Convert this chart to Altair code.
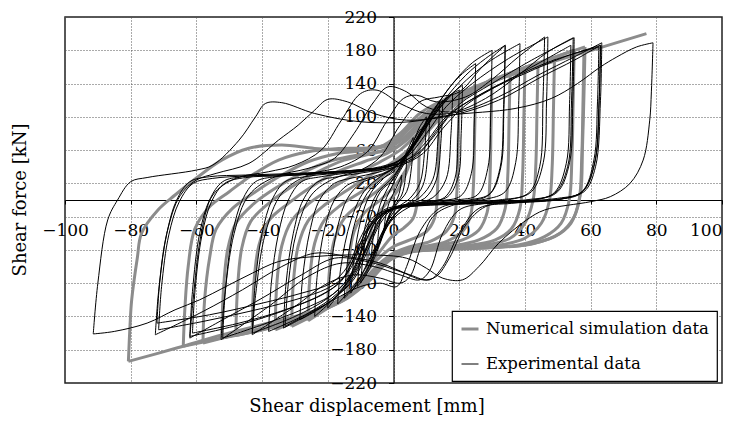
import altair as alt
import pandas as pd

X_TICKS = [-100, -80, -60, -40, -20, 0, 20, 40, 60, 80, 100]
Y_TICKS = [-220, -180, -140, -100, -60, -20, 20, 60, 100, 140, 180, 220]
SERIES = ["Numerical simulation data", "Experimental data"]
X_TITLE = "Shear displacement [mm]"
Y_TITLE = "Shear force [kN]"

# ---------------- Numerical simulation (grey) half-cycles ----------------
num_80_up = [(-80.7, -194), (-80.2, -150), (-79.7, -120), (-78, -70), (-76.7, -40), (-71.7, -12), (-66.5, 6),
             (-59.5, 28), (-52.3, 48), (-44.3, 62), (-34, 66), (-24, 62), (-12, 60), (-4, 64), (2, 80), (8, 104),
             (16, 122), (28, 140), (45, 162), (62, 182), (77, 200)]
num_80_down = [(58, 182), (57.7, 120), (57.3, 50), (56.5, 0), (54, -28), (49, -44), (40, -54), (26, -58), (12, -60),
               (2, -64), (-4, -80), (-10, -104), (-18, -124), (-28, -138), (-40, -150), (-52, -162), (-66, -178),
               (-80.7, -194)]
num_64_up = [(-64, -176), (-63.5, -130), (-62.5, -80), (-60.5, -35), (-56, -8), (-50, 10), (-43, 30), (-35, 48),
             (-26, 58), (-16, 62), (-6, 63), (0, 70), (6, 92), (14, 116), (26, 138), (42, 162), (58.3, 184)]
num_64_down = [(58.3, 184), (58, 130), (57.5, 60), (57, 10), (55, -20), (50.7, -40), (43, -52), (35.5, -56), (20, -58),
               (8, -60), (0, -66), (-6, -86), (-12, -108), (-20, -128), (-32, -146), (-46, -160), (-64, -176)]
num_58_up = [(-58, -172), (-57.5, -120), (-56, -70), (-54, -35), (-49, -10), (-42, 10), (-34, 30), (-26, 46),
             (-17, 56), (-8, 60), (0, 68), (6, 90), (14, 114), (26, 136), (40, 158), (55, 180)]
num_58_down = [(55, 180), (54.7, 120), (54.3, 50), (53.5, 0), (51, -28), (46, -44), (38, -54), (25, -58), (10, -60),
               (0, -68), (-6, -90), (-13, -112), (-22, -132), (-34, -148), (-46, -160), (-58, -172)]
num_52_up = [(-52.3, -166), (-51.8, -110), (-50.5, -60), (-48, -28), (-43, -6), (-36, 14), (-28, 32), (-20, 46),
             (-11, 54), (-3, 60), (3, 74), (9, 98), (18, 122), (30, 144), (44, 165)]
num_52_down = [(44, 165), (43.7, 110), (43.3, 40), (42.5, 0), (40, -28), (35.5, -46), (28, -54), (15, -58), (5, -62),
               (-2, -74), (-8, -98), (-15, -120), (-25, -138), (-38, -154), (-52.3, -166)]
num_48_up = [(-48, -163), (-47.5, -108), (-46.2, -58), (-43.5, -26), (-38, -4), (-31, 16), (-23, 34), (-15, 48),
             (-6, 56), (1, 64), (7, 86), (14, 110), (25, 134), (38, 154), (49, 172)]
num_48_down = [(49, 172), (48.7, 110), (48.3, 40), (47.5, 0), (45, -28), (40, -46), (31, -55), (18, -59), (6, -62),
               (-1, -72), (-7, -96), (-14, -118), (-24, -136), (-36, -152), (-48, -163)]
num_43_up = [(-43, -158), (-42.5, -100), (-41, -55), (-38, -25), (-32, -4), (-25, 16), (-17, 34), (-9, 46), (-2, 56),
             (4, 72), (10, 96), (18, 118), (28, 138), (40, 158)]
num_43_down = [(40, 158), (39.7, 100), (39.3, 30), (38.5, -10), (36, -34), (31, -48), (22, -55), (10, -58), (2, -64),
               (-4, -80), (-10, -102), (-18, -124), (-30, -142), (-43, -158)]
num_36_up = [(-36, -156), (-35.5, -100), (-34, -55), (-31, -25), (-26, -5), (-19, 14), (-11, 32), (-4, 46), (2, 60),
             (8, 82), (15, 106), (24, 130), (35.5, 152)]
num_36_down = [(35.5, 152), (35.2, 100), (34.8, 30), (34, -10), (31.5, -34), (26, -48), (18, -55), (8, -58), (0, -66),
               (-6, -86), (-12, -108), (-21, -130), (-36, -156)]
num_31_up = [(-31, -152), (-30.5, -100), (-29, -55), (-26, -25), (-21, -6), (-14, 12), (-7, 30), (0, 46), (6, 66),
             (12, 92), (20, 118), (30, 146)]
num_31_down = [(30, 146), (29.7, 90), (29.3, 20), (28.5, -15), (26, -36), (21, -48), (13, -55), (4, -60), (-3, -72),
               (-9, -96), (-16, -120), (-31, -152)]
num_26_up = [(-26, -145), (-25.5, -95), (-24, -52), (-21, -24), (-16, -6), (-9, 12), (-3, 30), (3, 50), (9, 76),
             (16, 106), (25, 138)]
num_26_down = [(25, 138), (24.7, 80), (24.3, 15), (23.5, -18), (21, -38), (16, -50), (9, -56), (2, -62), (-4, -80),
               (-10, -102), (-17, -122), (-26, -145)]
num_20_up = [(-20, -130), (-19.5, -85), (-18, -48), (-15, -22), (-10, -4), (-4, 14), (1, 34), (6, 60), (12, 92),
             (20, 126)]
num_20_down = [(20, 126), (19.7, 70), (19.3, 10), (18.5, -20), (16, -38), (11, -50), (5, -56), (-1, -66), (-6, -86),
               (-12, -106), (-20, -130)]
num_14_up = [(-14, -112), (-13.5, -70), (-12, -38), (-9, -16), (-4, 0), (1, 20), (5, 44), (9, 72), (14, 110)]
num_14_down = [(14, 110), (13.7, 60), (13.3, 5), (12.5, -22), (10, -38), (5, -48), (0, -56), (-5, -72), (-9, -90),
               (-14, -112)]
num_8_up = [(-8, -85), (-7.5, -50), (-6, -25), (-3, -8), (1, 10), (4, 34), (6, 58), (8, 85)]
num_8_down = [(8, 85), (7.7, 40), (7.3, 0), (6, -22), (3, -34), (0, -42), (-3, -56), (-6, -72), (-8, -85)]

# ---------------- Experimental (black) half-cycles ----------------
exp_91_up = [(-91.4, -161), (-90, -100), (-87, -24), (-84, 0), (-80, 22), (-75, 27), (-60, 36), (-55, 42), (-47, 72),
             (-42, 100), (-39, 116), (-34, 117), (-24, 104), (-10, 94), (5, 94), (17, 102), (37, 110), (48, 122),
             (56, 140), (63, 160), (68, 172), (74, 184), (79, 189)]
exp_91_down = [(79, 189), (78.5, 130), (78, 96), (76, 48), (72, 20), (66, 4), (60, -2), (46, -12), (40.5, -24),
               (32, -52), (26, -80), (21, -96), (15, -94), (10, -82), (4, -70), (-8, -66), (-24, -68), (-35, -74),
               (-43, -88), (-51, -104), (-59, -120), (-66.5, -132), (-75, -148), (-85, -158), (-91.4, -161)]
exp_72_up = [(-72.5, -162), (-71.5, -110), (-69, -40), (-65, 5), (-60, 24), (-54, 32), (-44, 44), (-35, 72),
             (-29, 90), (-24, 108), (-20, 121), (-14, 118), (-6, 104), (4, 96), (18, 102), (32, 120), (45, 148),
             (55, 168), (63, 186)]
exp_72_down = [(63, 186), (62.6, 120), (61, 40), (57, 8), (48, 0), (36, -4), (26, -10), (20, -40), (15, -80),
               (11, -96), (5, -90), (-4, -76), (-14, -68), (-24, -64), (-34, -80), (-46, -108), (-58, -134),
               (-72.5, -162)]
exp_62_up = [(-62, -166), (-61, -120), (-58.5, -40), (-55, 6), (-48, 26), (-38, 34), (-30, 42), (-22, 60), (-16, 95),
             (-10, 128), (-5, 132), (2, 116), (10, 104), (20, 106), (32, 124), (44, 150), (55, 172), (63.4, 189)]
exp_62_down = [(63.4, 189), (63, 120), (61.5, 40), (58, 10), (50, 2), (38, -2), (28, -8), (22, -30), (17, -70),
               (13, -92), (9, -96), (2, -86), (-8, -74), (-18, -70), (-28, -90), (-40, -118), (-52, -144),
               (-62, -166)]
exp_52_up = [(-52.5, -168), (-51.5, -120), (-48.5, -40), (-44, 6), (-36, 28), (-26, 38), (-18, 50), (-12, 80),
             (-6, 118), (-1.7, 136), (4, 130), (10, 112), (18, 106), (28, 122), (38, 150), (47, 178), (54.7, 195)]
exp_52_down = [(54.7, 195), (54.2, 120), (53, 40), (49, 8), (40, 0), (28, -4), (20, -12), (15, -40), (11, -85),
               (8, -96), (2, -90), (-6, -80), (-16, -76), (-26, -92), (-38, -128), (-52.5, -168)]
exp_43_up = [(-43, -162), (-42, -115), (-39, -40), (-34, 8), (-26, 30), (-16, 40), (-8, 58), (-2, 95), (3, 122),
             (7, 126), (13, 118), (22, 124), (30, 145), (38, 172), (46, 196)]
exp_43_down = [(46, 196), (45.5, 120), (44.5, 40), (41, 8), (32, 0), (20, -4), (12, -20), (8, -60), (5, -92),
               (2, -100), (-4, -94), (-12, -90), (-20, -100), (-30, -128), (-43, -162)]
exp_33_up = [(-33, -152), (-32, -100), (-29.5, -38), (-25, 6), (-18, 26), (-10, 36), (-4, 52), (2, 90), (8, 118),
             (14, 124), (20, 130), (27, 160), (34, 186)]
exp_33_down = [(34, 186), (33.5, 110), (32.4, 38), (29, 6), (22, -2), (14, -10), (8, -38), (4, -80), (1, -104),
               (-4, -100), (-10, -104), (-20, -124), (-33, -152)]

rep_72_up = [(-72, -148), (-71.2, -100), (-69, -40), (-66, 0), (-62, 22), (-56, 28), (-45, 30), (-30, 32), (-15, 35),
             (-2, 40), (6, 50), (12, 75), (18, 105), (28, 130), (40, 152), (52, 172), (63, 186)]
rep_72_down = [(63, 186), (62.6, 120), (61.5, 50), (58, 12), (52, 2), (40, -2), (25, -4), (10, -6), (0, -10),
               (-6, -20), (-10, -45), (-14, -80), (-19, -100), (-28, -112), (-40, -124), (-56, -138), (-72, -148)]
rep_71_up = [(-71.5, -156), (-70.6, -104), (-68.4, -42), (-65.2, -2), (-61, 20), (-55, 26), (-44, 29), (-30, 31),
             (-16, 34), (-4, 38), (4, 48), (10, 70), (16, 100), (26, 126), (38, 150), (50, 170), (62.5, 184)]
rep_71_down = [(62.5, 184), (62.1, 118), (61, 48), (57.6, 11), (51, 1), (38, -3), (22, -5), (8, -7), (-1, -12),
               (-6, -26), (-10, -56), (-14, -88), (-20, -106), (-30, -120), (-44, -134), (-58, -146), (-71.5, -156)]
rep_62_up = [(-62, -164), (-61.2, -110), (-59, -40), (-56, 0), (-52, 22), (-46, 28), (-35, 30), (-22, 33), (-10, 36),
             (0, 42), (8, 58), (14, 88), (20, 115), (30, 140), (42, 168), (55, 195)]
rep_62_down = [(55, 195), (54.6, 120), (53.6, 45), (50, 10), (44, 1), (32, -2), (18, -4), (6, -6), (-2, -12),
               (-7, -28), (-11, -60), (-15, -92), (-20, -110), (-30, -128), (-45, -148), (-62, -164)]
rep_61_up = [(-61.2, -160), (-60.4, -108), (-58.3, -42), (-55.4, -2), (-51.4, 20), (-45, 27), (-34, 29), (-20, 32),
             (-8, 35), (1, 40), (9, 56), (15, 86), (22, 114), (32, 138), (44, 164), (54, 186)]
rep_61_down = [(54, 186), (53.6, 116), (52.6, 44), (49, 9), (43, 0), (30, -3), (16, -5), (4, -8), (-3, -16),
               (-8, -36), (-12, -70), (-16, -98), (-22, -114), (-33, -132), (-47, -148), (-61.2, -160)]
rep_52_up = [(-52, -166), (-51.2, -110), (-49, -40), (-46, 0), (-42, 22), (-36, 28), (-26, 31), (-14, 35), (-4, 40),
             (4, 52), (10, 80), (16, 112), (24, 140), (35, 170), (47, 196)]
rep_52_down = [(47, 196), (46.6, 120), (45.6, 45), (42, 10), (36, 1), (24, -3), (10, -5), (0, -10), (-5, -24),
               (-9, -55), (-13, -90), (-18, -112), (-28, -132), (-40, -150), (-52, -166)]
rep_43_up = [(-43, -160), (-42.2, -105), (-40, -40), (-37, 0), (-33, 22), (-27, 28), (-18, 32), (-8, 36), (0, 44),
             (6, 64), (12, 100), (20, 136), (29, 166), (38.5, 188)]
rep_43_down = [(38.5, 188), (38.1, 115), (37.2, 45), (34, 10), (28, 1), (16, -3), (4, -6), (-3, -12), (-7, -30),
               (-10, -62), (-14, -95), (-20, -118), (-30, -140), (-43, -160)]
rep_38_up = [(-38, -158), (-37.2, -100), (-35, -40), (-32, 0), (-28, 22), (-22, 28), (-13, 33), (-4, 38), (2, 48),
             (8, 78), (15, 118), (22, 150), (28, 170), (34, 186)]
rep_38_down = [(34, 186), (33.6, 110), (32.7, 40), (29.5, 8), (23, 0), (12, -4), (2, -8), (-4, -18), (-8, -45),
               (-12, -85), (-17, -112), (-26, -136), (-38, -158)]
rep_33_up = [(-33.5, -154), (-32.7, -100), (-30.5, -40), (-27.5, 0), (-23, 22), (-17, 28), (-9, 33), (-1, 40),
             (5, 60), (11, 100), (18, 140), (24, 165), (30, 180)]
rep_33_down = [(30, 180), (29.6, 105), (28.7, 38), (25.5, 6), (19, 0), (9, -4), (1, -8), (-4, -22), (-8, -55),
               (-12, -92), (-18, -118), (-26, -138), (-33.5, -154)]
rep_28_up = [(-28.5, -144), (-27.7, -95), (-25.5, -38), (-22.5, 0), (-18, 20), (-12, 27), (-5, 33), (1, 42), (6, 64),
             (11, 100), (17, 135), (21, 152), (25, 164)]
rep_28_down = [(25, 164), (24.6, 95), (23.7, 32), (20.5, 5), (14, -1), (6, -5), (0, -10), (-4, -28), (-8, -62),
               (-12, -95), (-18, -118), (-23, -132), (-28.5, -144)]
rep_24_up = [(-24, -140), (-23.2, -90), (-21, -35), (-18, 0), (-14, 18), (-8, 26), (-2, 34), (3, 48), (8, 75),
             (13, 105), (17, 125), (21, 138)]
rep_24_down = [(21, 138), (20.6, 80), (19.7, 28), (16.5, 4), (10, -2), (3, -6), (-2, -14), (-6, -40), (-10, -75),
               (-14, -100), (-19, -122), (-24, -140)]
exp_20_up = [(-20, -130), (-19.2, -86), (-17, -32), (-14, 2), (-10, 20), (-5, 28), (0, 38), (4, 56), (9, 86),
             (14, 114), (18, 128), (20, 132)]
exp_20_down = [(20, 132), (19.6, 76), (18.7, 26), (15.5, 3), (9, -3), (2, -8), (-3, -18), (-7, -46), (-11, -80),
               (-15, -104), (-20, -130)]
exp_17_up = [(-17, -125), (-16, -80), (-13, -25), (-9, 10), (-4, 28), (0, 38), (5, 58), (10, 90), (15, 118), (18, 128)]
exp_17_down = [(18, 128), (17.5, 80), (16, 25), (12, 3), (6, -6), (0, -22), (-5, -55), (-10, -92), (-14, -112),
               (-17, -125)]
exp_15_up = [(-15, -118), (-14, -74), (-11.5, -24), (-8, 8), (-4, 24), (0, 34), (4, 52), (8, 80), (12, 106), (15, 120)]
exp_15_down = [(15, 120), (14.5, 74), (13, 24), (9.5, 2), (4, -6), (-1, -24), (-5, -58), (-9, -90), (-12, -106),
               (-15, -118)]
exp_13_up = [(-13, -112), (-12, -70), (-10, -25), (-7, 8), (-3, 26), (1, 40), (5, 60), (9, 88), (12, 108), (14, 118)]
exp_13_down = [(14, 118), (13.5, 70), (12, 25), (8, 3), (3, -8), (-2, -30), (-6, -60), (-10, -92), (-13, -112)]
exp_11_up = [(-11, -104), (-10, -64), (-8, -22), (-5, 8), (-1, 24), (2, 40), (5, 62), (8, 84), (11, 96)]
exp_11_down = [(11, 96), (10.5, 58), (9, 18), (6, 1), (2, -10), (-2, -32), (-5, -62), (-8, -88), (-11, -104)]
exp_10_up = [(-10, -100), (-9, -60), (-7, -20), (-4, 10), (0, 25), (3, 45), (6, 70), (8, 88), (10, 100)]
exp_10_down = [(10, 100), (9.5, 60), (8, 20), (5, 2), (1, -10), (-3, -35), (-6, -65), (-8, -85), (-10, -100)]
exp_7_up = [(-7, -80), (-6, -40), (-4, -5), (-1, 20), (2, 40), (4, 58), (6, 75)]
exp_7_down = [(6, 75), (5.5, 40), (4, 10), (1, -5), (-2, -25), (-4, -50), (-6, -68), (-7, -80)]
exp_5_up = [(-5, -60), (-4.3, -30), (-3, -6), (-1, 12), (1, 28), (3, 42), (4, 50)]
exp_5_down = [(4, 50), (3.6, 26), (2.5, 6), (0.5, -6), (-1.5, -22), (-3.5, -42), (-5, -60)]
exp_3_up = [(-3, -40), (-2.4, -20), (-1.4, -4), (0, 8), (1.5, 20), (2.5, 30)]
exp_3_down = [(2.5, 30), (2.1, 14), (1.2, 2), (-0.3, -8), (-1.7, -22), (-3, -40)]

num_segments = [num_80_up, num_80_down, num_64_up, num_64_down, num_58_up, num_58_down, num_52_up, num_52_down,
                num_48_up, num_48_down, num_43_up, num_43_down, num_36_up, num_36_down, num_31_up, num_31_down,
                num_26_up, num_26_down, num_20_up, num_20_down, num_14_up, num_14_down, num_8_up, num_8_down]
exp_segments = [exp_91_up, exp_91_down, exp_72_up, exp_72_down, exp_62_up, exp_62_down, exp_52_up, exp_52_down,
                exp_43_up, exp_43_down, exp_33_up, exp_33_down, rep_72_up, rep_72_down, rep_71_up, rep_71_down,
                rep_62_up, rep_62_down, rep_61_up, rep_61_down, rep_52_up, rep_52_down, rep_43_up, rep_43_down,
                rep_38_up, rep_38_down, rep_33_up, rep_33_down, rep_28_up, rep_28_down, rep_24_up, rep_24_down,
                exp_20_up, exp_20_down, exp_17_up, exp_17_down, exp_15_up, exp_15_down, exp_13_up, exp_13_down,
                exp_11_up, exp_11_down, exp_10_up, exp_10_down, exp_7_up, exp_7_down, exp_5_up, exp_5_down,
                exp_3_up, exp_3_down]

rows = []
for series, segs in [(SERIES[0], num_segments), (SERIES[1], exp_segments)]:
    for k, pts in enumerate(segs):
        for i, (xv, yv) in enumerate(pts):
            rows.append({"series": series, "seg": f"{series}-{k}", "i": i, "x": xv, "y": yv})
df = pd.DataFrame(rows)

FONT = "DejaVu Serif"
x_enc = alt.X("x:Q", scale=alt.Scale(domain=[-100, 100], nice=False, zero=False),
              axis=alt.Axis(values=X_TICKS, orient="bottom", offset=-183, title=None, format="d",
                            labelFont=FONT, labelFontSize=17, labelColor="black", labelPadding=18,
                            labelFlush=False, labelOverlap=False, tickSize=4, tickColor="black",
                            labelAlign={"expr": "datum.value >= 100 ? 'right' : 'center'"},
                            domainColor="black", domainWidth=1.2, grid=True, gridColor="#555",
                            gridDash=[1, 2], gridWidth=1, zindex=0))
y_enc = alt.Y("y:Q", scale=alt.Scale(domain=[-220, 220], nice=False, zero=False),
              axis=alt.Axis(values=Y_TICKS, orient="left", offset=-328.5, title=None, format="d",
                            labelFont=FONT, labelFontSize=17, labelColor="black", labelPadding=12,
                            labelOverlap=False, tickSize=5, tickColor="black", domainColor="black",
                            domainWidth=1.2, grid=True, gridColor="#555", gridDash=[1, 2], gridWidth=1,
                            zindex=0))
color_enc = alt.Color("series:N", scale=alt.Scale(domain=SERIES, range=["#8c8c8c", "#000000"]), title=None)
sw_enc = alt.StrokeWidth("series:N", scale=alt.Scale(domain=SERIES, range=[3, 1]), title=None)


def layer(name):
    return alt.Chart(df).transform_filter(alt.datum.series == name).mark_line(
        interpolate="catmull-rom").encode(
        x=x_enc, y=y_enc, color=color_enc, strokeWidth=sw_enc, detail="seg:N", order="i:Q")


xt = alt.Chart(pd.DataFrame({"t": [X_TITLE]})).mark_text(
    font=FONT, fontSize=18, color="black", align="center", baseline="alphabetic").encode(
    x=alt.value(302), y=alt.value(395), text="t:N")
yt = alt.Chart(pd.DataFrame({"t": [Y_TITLE]})).mark_text(
    font=FONT, fontSize=18, color="black", align="center", baseline="middle", angle=270).encode(
    x=alt.value(-44), y=alt.value(183), text="t:N")

chart = alt.layer(layer(SERIES[0]), layer(SERIES[1]), xt, yt).properties(
    width=657, height=366, autosize=alt.AutoSizeParams(type="none"),
    padding={"left": 57, "top": 9, "right": 7, "bottom": 33}
).configure_view(stroke="#222", strokeWidth=1.5).configure_legend(
    orient="none", legendX=387, legendY=294, fillColor="white", strokeColor="black", strokeWidth=1.2,
    padding=8, labelFont=FONT, labelFontSize=16.5, labelColor="black", labelLimit=400, symbolType="stroke",
    symbolSize=289, rowPadding=17, labelOffset=6, cornerRadius=0)

chart.save("out.html", embed_options={"renderer": "svg", "actions": False})
